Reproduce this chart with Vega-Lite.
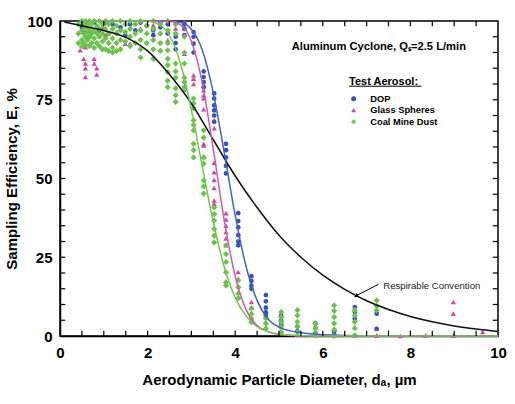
{
"$schema": "https://vega.github.io/schema/vega-lite/v6.json",
"width": 438, "height": 315,
"autosize": {"type": "none"},
"padding": {"left": 60, "top": 21, "right": 17, "bottom": 68},
"background": "white",
"config": {"font": "Liberation Sans", "view": {"stroke": "black", "strokeWidth": 1.5},
  "axis": {"grid": false, "domainColor": "black", "domainWidth": 1.5, "labelColor": "black", "titleColor": "black", "zindex": 1}},
"datasets": {
"xticks": [{"d":0.5},{"d":1},{"d":1.5},{"d":2},{"d":2.5},{"d":3},{"d":3.5},{"d":4},{"d":4.5},{"d":5},{"d":5.5},{"d":6},{"d":6.5},{"d":7},{"d":7.5},{"d":8},{"d":8.5},{"d":9},{"d":9.5}],
"yticks": [{"E":5},{"E":10},{"E":15},{"E":20},{"E":25},{"E":30},{"E":35},{"E":40},{"E":45},{"E":50},{"E":55},{"E":60},{"E":65},{"E":70},{"E":75},{"E":80},{"E":85},{"E":90},{"E":95}],
"resp": [{"d":0.1,"E":99.7},{"d":0.5,"E":98.5},{"d":1,"E":97},{"d":1.5,"E":94.8},{"d":2,"E":90.5},{"d":2.5,"E":83},{"d":3,"E":73.8},{"d":3.5,"E":62.3},{"d":4,"E":50.8},{"d":4.5,"E":40.8},{"d":5,"E":32},{"d":5.5,"E":25},{"d":6,"E":19.3},{"d":6.5,"E":14.8},{"d":7,"E":11.2},{"d":7.5,"E":8.4},{"d":8,"E":6.2},{"d":8.5,"E":4.5},{"d":9,"E":3.2},{"d":9.5,"E":2.2},{"d":10,"E":1.4}],
"dopfit": [{"d":0.5,"E":100},{"d":2,"E":100},{"d":2.5,"E":99.9},{"d":2.75,"E":99.5},{"d":3,"E":97.4},{"d":3.25,"E":90.7},{"d":3.5,"E":77.2},{"d":3.75,"E":58.2},{"d":4,"E":38.3},{"d":4.25,"E":22},{"d":4.5,"E":11.3},{"d":4.75,"E":5.4},{"d":5,"E":2.8},{"d":5.5,"E":1},{"d":6,"E":0.4},{"d":7,"E":0.1},{"d":10,"E":0}],
"glassfit": [{"d":0.5,"E":100},{"d":2,"E":100},{"d":2.5,"E":99.9},{"d":2.75,"E":98.8},{"d":3,"E":93.6},{"d":3.25,"E":80.3},{"d":3.5,"E":59.3},{"d":3.75,"E":36.7},{"d":4,"E":19},{"d":4.25,"E":8.3},{"d":4.5,"E":3.3},{"d":4.75,"E":1.3},{"d":5,"E":0.5},{"d":5.5,"E":0.1},{"d":10,"E":0}],
"coalfit": [{"d":0.5,"E":100},{"d":1.5,"E":100},{"d":2,"E":99.9},{"d":2.25,"E":99},{"d":2.5,"E":95.4},{"d":2.75,"E":86.5},{"d":3,"E":71.8},{"d":3.25,"E":53.7},{"d":3.5,"E":36.1},{"d":3.75,"E":21.9},{"d":4,"E":12.2},{"d":4.25,"E":6.3},{"d":4.5,"E":3},{"d":4.75,"E":1.4},{"d":5,"E":0.6},{"d":5.5,"E":0.1},{"d":6,"E":0},{"d":10,"E":0}],
"glass": [{"d":0.46,"E":90.7},{"d":0.5,"E":92.3},{"d":0.54,"E":88},{"d":0.58,"E":86.5},{"d":0.58,"E":85},{"d":0.58,"E":82.2},{"d":0.58,"E":91.7},{"d":0.78,"E":88},{"d":0.78,"E":86.5},{"d":0.84,"E":85},{"d":0.84,"E":83},{"d":0.67,"E":97},{"d":0.97,"E":98},{"d":1.04,"E":95.5},{"d":1.29,"E":96.5},{"d":1.49,"E":92.8},{"d":1.6,"E":92.8},{"d":1.84,"E":97.6},{"d":2.13,"E":98.6},{"d":2.46,"E":99.7},{"d":2.46,"E":96.5},{"d":2.46,"E":93.9},{"d":2.64,"E":99.5},{"d":2.64,"E":97.6},{"d":2.84,"E":99.7},{"d":2.84,"E":98},{"d":2.84,"E":89.6},{"d":3.05,"E":82.8},{"d":3.05,"E":81.7},{"d":3.05,"E":80},{"d":3.28,"E":79.6},{"d":3.28,"E":78},{"d":3.28,"E":76.4},{"d":3.28,"E":75.4},{"d":3.28,"E":72},{"d":3.28,"E":61},{"d":3.28,"E":60.5},{"d":3.28,"E":57},{"d":3.52,"E":68.5},{"d":3.52,"E":66},{"d":3.52,"E":55},{"d":3.52,"E":52},{"d":3.52,"E":49.5},{"d":3.52,"E":47},{"d":3.52,"E":43},{"d":3.52,"E":42},{"d":3.79,"E":39},{"d":3.79,"E":37},{"d":3.79,"E":35},{"d":3.79,"E":33},{"d":3.79,"E":31},{"d":3.79,"E":28.8},{"d":4.07,"E":20.3},{"d":4.07,"E":18.2},{"d":4.37,"E":10.8},{"d":4.37,"E":9},{"d":4.7,"E":7.6},{"d":4.7,"E":6.6},{"d":5.05,"E":4.4},{"d":5.05,"E":3},{"d":5.05,"E":1.3},{"d":5.42,"E":2},{"d":5.42,"E":0.5},{"d":6.26,"E":2.3},{"d":6.26,"E":0.2},{"d":6.73,"E":0.2},{"d":7.23,"E":2.3},{"d":7.23,"E":0.2},{"d":7.77,"E":0},{"d":8.35,"E":0.2},{"d":8.98,"E":10.8},{"d":8.98,"E":7.1},{"d":8.98,"E":0.2},{"d":9.65,"E":1.3}],
"dop": [{"d":0.5,"E":98},{"d":0.54,"E":96.5},{"d":0.58,"E":99},{"d":0.67,"E":95},{"d":0.78,"E":99.5},{"d":0.9,"E":97},{"d":1.04,"E":99.5},{"d":1.11,"E":96},{"d":1.2,"E":99},{"d":1.38,"E":98},{"d":1.49,"E":95.5},{"d":1.6,"E":99},{"d":1.72,"E":97},{"d":1.84,"E":99.5},{"d":1.98,"E":98.5},{"d":2.13,"E":97},{"d":2.13,"E":95.5},{"d":2.29,"E":99.5},{"d":2.29,"E":98},{"d":2.46,"E":96},{"d":2.46,"E":99},{"d":2.64,"E":95},{"d":2.64,"E":93},{"d":2.64,"E":91},{"d":2.84,"E":97.5},{"d":2.84,"E":95.5},{"d":2.84,"E":99},{"d":3.05,"E":96.5},{"d":3.05,"E":95},{"d":3.05,"E":92.8},{"d":3.05,"E":90},{"d":3.28,"E":84},{"d":3.28,"E":82.2},{"d":3.28,"E":80.6},{"d":3.28,"E":79},{"d":3.52,"E":77},{"d":3.52,"E":75.4},{"d":3.52,"E":73.2},{"d":3.52,"E":71.6},{"d":3.52,"E":70},{"d":3.52,"E":68},{"d":3.79,"E":61},{"d":3.79,"E":59},{"d":3.79,"E":56.7},{"d":3.79,"E":54},{"d":3.79,"E":51.6},{"d":4.07,"E":39},{"d":4.07,"E":36.5},{"d":4.07,"E":34.5},{"d":4.07,"E":32},{"d":4.07,"E":30},{"d":4.07,"E":28.8},{"d":4.37,"E":19},{"d":4.37,"E":17.5},{"d":4.37,"E":16},{"d":4.37,"E":15},{"d":4.7,"E":13},{"d":4.7,"E":11},{"d":4.7,"E":9},{"d":4.7,"E":7.5},{"d":4.7,"E":6.5},{"d":5.05,"E":6.5},{"d":5.05,"E":5},{"d":5.05,"E":3.4},{"d":5.42,"E":3},{"d":5.42,"E":1.5},{"d":5.83,"E":4},{"d":5.83,"E":2.5},{"d":5.83,"E":1},{"d":6.26,"E":1.5},{"d":6.26,"E":0.5},{"d":6.73,"E":9.2},{"d":6.73,"E":7.6},{"d":6.73,"E":5.5},{"d":7.23,"E":7.1},{"d":7.23,"E":2.3}],
"coal": [{"d":0.42,"E":99},{"d":0.42,"E":96},{"d":0.42,"E":93},{"d":0.5,"E":100},{"d":0.5,"E":97},{"d":0.5,"E":94},{"d":0.5,"E":92},{"d":0.54,"E":99},{"d":0.54,"E":96},{"d":0.54,"E":93},{"d":0.58,"E":100},{"d":0.58,"E":98},{"d":0.58,"E":95},{"d":0.58,"E":92.5},{"d":0.63,"E":99},{"d":0.63,"E":96.5},{"d":0.63,"E":94},{"d":0.67,"E":100},{"d":0.67,"E":97.5},{"d":0.67,"E":95},{"d":0.67,"E":92},{"d":0.72,"E":99},{"d":0.72,"E":96},{"d":0.72,"E":93},{"d":0.78,"E":100},{"d":0.78,"E":97},{"d":0.78,"E":94.5},{"d":0.78,"E":91.5},{"d":0.84,"E":98.5},{"d":0.84,"E":96},{"d":0.84,"E":93},{"d":0.9,"E":100},{"d":0.9,"E":97.5},{"d":0.9,"E":95},{"d":0.9,"E":92},{"d":0.97,"E":99},{"d":0.97,"E":96},{"d":0.97,"E":93.5},{"d":0.97,"E":91},{"d":1.04,"E":100},{"d":1.04,"E":97.5},{"d":1.04,"E":94.5},{"d":1.04,"E":91},{"d":1.11,"E":99},{"d":1.11,"E":96},{"d":1.11,"E":93},{"d":1.11,"E":90.5},{"d":1.2,"E":100},{"d":1.2,"E":97.5},{"d":1.2,"E":94.5},{"d":1.2,"E":91.5},{"d":1.2,"E":90},{"d":1.29,"E":98.5},{"d":1.29,"E":96},{"d":1.29,"E":93},{"d":1.29,"E":90.5},{"d":1.38,"E":100},{"d":1.38,"E":97},{"d":1.38,"E":94},{"d":1.38,"E":91},{"d":1.49,"E":99},{"d":1.49,"E":96.5},{"d":1.49,"E":93.5},{"d":1.6,"E":100},{"d":1.6,"E":97.5},{"d":1.6,"E":95},{"d":1.6,"E":92},{"d":1.72,"E":99},{"d":1.72,"E":96},{"d":1.72,"E":93},{"d":1.84,"E":100},{"d":1.84,"E":97},{"d":1.84,"E":94},{"d":1.84,"E":91},{"d":1.84,"E":88.4},{"d":1.98,"E":98.5},{"d":1.98,"E":96},{"d":1.98,"E":93},{"d":2.13,"E":100},{"d":2.13,"E":97.5},{"d":2.13,"E":94},{"d":2.13,"E":91},{"d":2.13,"E":88},{"d":2.29,"E":99},{"d":2.29,"E":96},{"d":2.29,"E":93},{"d":2.29,"E":90.5},{"d":2.46,"E":100},{"d":2.46,"E":97},{"d":2.46,"E":93},{"d":2.46,"E":90.7},{"d":2.46,"E":88},{"d":2.46,"E":86},{"d":2.46,"E":83.8},{"d":2.46,"E":81},{"d":2.46,"E":79},{"d":2.64,"E":99},{"d":2.64,"E":96},{"d":2.64,"E":86.5},{"d":2.64,"E":84},{"d":2.64,"E":82},{"d":2.64,"E":78.6},{"d":2.64,"E":76.4},{"d":2.64,"E":74.3},{"d":2.84,"E":95},{"d":2.84,"E":90},{"d":2.84,"E":86.5},{"d":2.84,"E":82},{"d":2.84,"E":80.6},{"d":2.84,"E":79},{"d":2.84,"E":78},{"d":3.05,"E":75.4},{"d":3.05,"E":73.9},{"d":3.05,"E":72.3},{"d":3.05,"E":68.5},{"d":3.05,"E":67},{"d":3.05,"E":65.3},{"d":3.05,"E":61},{"d":3.05,"E":59},{"d":3.05,"E":56.7},{"d":3.28,"E":65.3},{"d":3.28,"E":63},{"d":3.28,"E":56.7},{"d":3.28,"E":54.7},{"d":3.28,"E":49.4},{"d":3.28,"E":47.5},{"d":3.28,"E":45.2},{"d":3.52,"E":40.8},{"d":3.52,"E":38.7},{"d":3.52,"E":36.7},{"d":3.52,"E":34},{"d":3.52,"E":31.8},{"d":3.52,"E":29.7},{"d":3.79,"E":28.8},{"d":3.79,"E":26},{"d":3.79,"E":23.5},{"d":3.79,"E":20.2},{"d":3.79,"E":17},{"d":3.79,"E":16},{"d":4.07,"E":17.7},{"d":4.07,"E":15.5},{"d":4.07,"E":13.5},{"d":4.07,"E":12},{"d":4.37,"E":8.8},{"d":4.37,"E":7},{"d":4.37,"E":5.5},{"d":4.37,"E":4.4},{"d":4.7,"E":5.6},{"d":4.7,"E":4},{"d":4.7,"E":2.4},{"d":5.05,"E":7.6},{"d":5.05,"E":6},{"d":5.05,"E":4.5},{"d":5.05,"E":3},{"d":5.05,"E":1.3},{"d":5.42,"E":8.2},{"d":5.42,"E":6.5},{"d":5.42,"E":4.5},{"d":5.42,"E":3},{"d":5.42,"E":1.3},{"d":5.83,"E":4},{"d":5.83,"E":2.5},{"d":5.83,"E":1},{"d":5.83,"E":0.2},{"d":6.26,"E":9.7},{"d":6.26,"E":8},{"d":6.26,"E":6},{"d":6.26,"E":4},{"d":6.26,"E":2},{"d":6.26,"E":0},{"d":6.73,"E":8.2},{"d":6.73,"E":6.5},{"d":6.73,"E":4.5},{"d":6.73,"E":2.5},{"d":6.73,"E":0.2},{"d":7.23,"E":11.3},{"d":7.23,"E":9.5},{"d":7.23,"E":8.2}]
},
"layer": [
 {"data": {"name": "glass"}, "mark": {"type": "point", "filled": true, "opacity": 1, "size": 28},
  "encoding": {
   "x": {"field": "d", "type": "quantitative", "scale": {"domain": [0, 10], "nice": false},
     "axis": {"orient": "bottom", "values": [0,2,4,6,8,10], "format": "d", "ticks": false, "labelPadding": 9, "labelFontSize": 15, "labelFontWeight": "bold", "labelFlush": false, "labelOverlap": false, "labelBound": false, "title": "Aerodynamic Particle Diameter, dₐ, µm", "titleFontSize": 15, "titleFontWeight": "bold", "titlePadding": 12}},
   "y": {"field": "E", "type": "quantitative", "scale": {"domain": [0, 100], "nice": false},
     "axis": {"orient": "left", "values": [0,25,50,75,100], "format": "d", "ticks": false, "labelPadding": 8, "labelFontSize": 15, "labelFontWeight": "bold", "labelFlush": false, "labelOverlap": false, "labelBound": false, "title": "Sampling Efficiency, E, %", "titleFontSize": 15, "titleFontWeight": "bold", "titlePadding": 7}},
   "color": {"datum": "Glass Spheres", "scale": {"domain": ["DOP", "Glass Spheres", "Coal Mine Dust"], "range": ["#3550c0", "#cc48a4", "#6cc24a"]},
     "legend": {"title": "Test Aerosol:", "orient": "none", "legendX": 289, "legendY": 55, "titleFontSize": 11, "titleFontWeight": "bold", "titleColor": "black", "labelFontSize": 9.3, "labelFontWeight": "bold", "labelColor": "black", "labelOffset": 12, "rowPadding": 1.5, "symbolSize": 25, "titlePadding": 7}},
   "shape": {"datum": "Glass Spheres", "scale": {"domain": ["DOP", "Glass Spheres", "Coal Mine Dust"], "range": ["circle", "triangle-up", "diamond"]},
     "legend": {"title": "Test Aerosol:", "orient": "none", "legendX": 289, "legendY": 55, "titleFontSize": 11, "titleFontWeight": "bold", "titleColor": "black", "labelFontSize": 9.3, "labelFontWeight": "bold", "labelColor": "black", "labelOffset": 12, "rowPadding": 1.5, "symbolSize": 25, "titlePadding": 7}}
  }},
 {"data": {"name": "dop"}, "mark": {"type": "point", "filled": true, "opacity": 1, "size": 22},
  "encoding": {
   "x": {"field": "d", "type": "quantitative", "axis": null},
   "y": {"field": "E", "type": "quantitative", "axis": null},
   "color": {"datum": "DOP"}, "shape": {"datum": "DOP"}
  }},
 {"data": {"name": "coal"}, "mark": {"type": "point", "filled": true, "opacity": 1, "size": 38},
  "encoding": {
   "x": {"field": "d", "type": "quantitative", "axis": null},
   "y": {"field": "E", "type": "quantitative", "axis": null},
   "color": {"datum": "Coal Mine Dust"}, "shape": {"datum": "Coal Mine Dust"}
  }},
 {"data": {"name": "resp"}, "mark": {"type": "line", "color": "#111111", "strokeWidth": 1.5, "interpolate": "monotone"},
  "encoding": {"x": {"field": "d", "type": "quantitative", "axis": null}, "y": {"field": "E", "type": "quantitative", "axis": null}}},
 {"data": {"name": "dopfit"}, "mark": {"type": "line", "color": "#4460d0", "strokeWidth": 1.5, "interpolate": "monotone"},
  "encoding": {"x": {"field": "d", "type": "quantitative", "axis": null}, "y": {"field": "E", "type": "quantitative", "axis": null}}},
 {"data": {"name": "glassfit"}, "mark": {"type": "line", "color": "#d058b0", "strokeWidth": 1.5, "interpolate": "monotone"},
  "encoding": {"x": {"field": "d", "type": "quantitative", "axis": null}, "y": {"field": "E", "type": "quantitative", "axis": null}}},
 {"data": {"name": "coalfit"}, "mark": {"type": "line", "color": "#70c850", "strokeWidth": 1.5, "interpolate": "monotone"},
  "encoding": {"x": {"field": "d", "type": "quantitative", "axis": null}, "y": {"field": "E", "type": "quantitative", "axis": null}}},
 {"data": {"name": "xticks"}, "mark": {"type": "rule", "color": "black", "strokeWidth": 1.2},
  "encoding": {"x": {"field": "d", "type": "quantitative", "axis": null}, "y": {"datum": 0, "type": "quantitative", "axis": null}, "y2": {"datum": 1.7}}},
 {"data": {"name": "xticks"}, "mark": {"type": "rule", "color": "black", "strokeWidth": 1.2},
  "encoding": {"x": {"field": "d", "type": "quantitative", "axis": null}, "y": {"datum": 100, "type": "quantitative", "axis": null}, "y2": {"datum": 98.3}}},
 {"data": {"name": "yticks"}, "mark": {"type": "rule", "color": "black", "strokeWidth": 1.2},
  "encoding": {"y": {"field": "E", "type": "quantitative", "axis": null}, "x": {"datum": 0, "type": "quantitative", "axis": null}, "x2": {"datum": 0.12}}},
 {"data": {"name": "yticks"}, "mark": {"type": "rule", "color": "black", "strokeWidth": 1.2},
  "encoding": {"y": {"field": "E", "type": "quantitative", "axis": null}, "x": {"datum": 10, "type": "quantitative", "axis": null}, "x2": {"datum": 9.88}}},
 {"data": {"values": [{}]}, "mark": {"type": "text", "text": "Aluminum Cyclone, Qₛ=2.5 L/min", "align": "left", "baseline": "middle", "fontSize": 11.2, "fontWeight": "bold", "color": "black"},
  "encoding": {"x": {"datum": 5.29, "type": "quantitative", "axis": null}, "y": {"datum": 91.7, "type": "quantitative", "axis": null}}},
 {"data": {"values": [{}]}, "mark": {"type": "text", "text": "Respirable Convention", "align": "left", "baseline": "middle", "fontSize": 9.6, "color": "#222222"},
  "encoding": {"x": {"datum": 7.38, "type": "quantitative", "axis": null}, "y": {"datum": 15.8, "type": "quantitative", "axis": null}}},
 {"data": {"values": [{}]}, "mark": {"type": "rule", "color": "black", "strokeWidth": 1},
  "encoding": {"x": {"datum": 7.27, "type": "quantitative", "axis": null}, "y": {"datum": 16.4, "type": "quantitative", "axis": null}, "x2": {"datum": 6.78}, "y2": {"datum": 12.9}}},
 {"data": {"values": [{}]}, "mark": {"type": "point", "shape": "triangle-left", "filled": true, "color": "black", "size": 22, "angle": 332, "opacity": 1},
  "encoding": {"x": {"datum": 6.76, "type": "quantitative", "axis": null}, "y": {"datum": 12.7, "type": "quantitative", "axis": null}}},
 {"data": {"values": [{}]}, "mark": {"type": "rule", "color": "black", "strokeWidth": 1},
  "encoding": {"x": {"datum": 6.6, "type": "quantitative", "axis": null}, "y": {"datum": 79.3, "type": "quantitative", "axis": null}, "x2": {"datum": 8.25}}}
],
"resolve": {"axis": {"x": "independent", "y": "independent"}}
}
